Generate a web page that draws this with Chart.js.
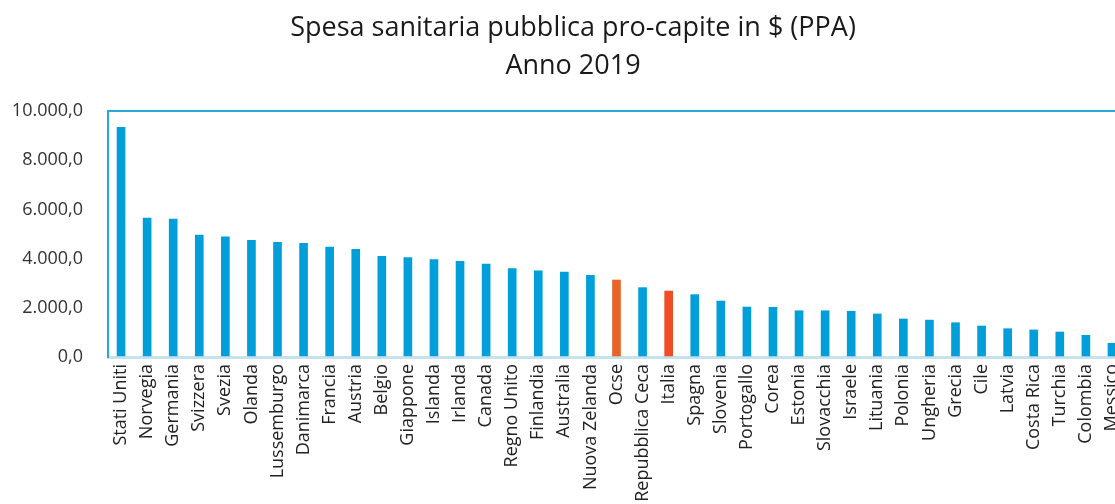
<!DOCTYPE html>
<html lang="it">
<head>
<meta charset="utf-8">
<title>Spesa sanitaria pubblica pro-capite</title>
<script src="https://cdn.jsdelivr.net/npm/chart.js@4/dist/chart.umd.min.js"></script>
<style>
    html, body { margin: 0; padding: 0; background: #fff; overflow: hidden; }
    #wrap { position: relative; width: 1150px; height: 504px; }
    #titolo {
        position: absolute; left: 0; top: 7px; width: 1146px;
        text-align: center; font-family: "Open Sans", sans-serif;
        font-size: 27px; line-height: 38px; color: #1a1a1a;
    }
    canvas { position: absolute; left: 0; top: 0; }
</style>
</head>
<body>
<div id="wrap">
    <canvas id="spesaChart" width="1150" height="504"></canvas>
    <div id="titolo">Spesa sanitaria pubblica pro-capite in $ (PPA)<br>Anno 2019</div>
</div>
<script>
// Paesi (ordinati per spesa)
const PAESI = [
    'Stati Uniti', 'Norvegia', 'Germania', 'Svizzera', 'Svezia', 'Olanda',
    'Lussemburgo', 'Danimarca', 'Francia', 'Austria', 'Belgio', 'Giappone',
    'Islanda', 'Irlanda', 'Canada', 'Regno Unito', 'Finlandia', 'Australia',
    'Nuova Zelanda', 'Ocse', 'Repubblica Ceca', 'Italia', 'Spagna', 'Slovenia',
    'Portogallo', 'Corea', 'Estonia', 'Slovacchia', 'Israele', 'Lituania',
    'Polonia', 'Ungheria', 'Grecia', 'Cile', 'Latvia', 'Costa Rica',
    'Turchia', 'Colombia', 'Messico'
];

// Spesa pro-capite in $ PPA
const SPESA = [
    9340, 5650, 5610, 4960, 4890, 4740,
    4660, 4620, 4470, 4380, 4090, 4040,
    3960, 3890, 3780, 3590, 3500, 3455,
    3320, 3130, 2820, 2680, 2535, 2275,
    2030, 2020, 1880, 1880, 1860, 1750,
    1545, 1500, 1395, 1260, 1150, 1100,
    1015, 880, 555
];

// Etichette asse y
const TICK_VALORI = [0, 2000, 4000, 6000, 8000, 10000];
const TICK_ETICHETTE = ['0,0', '2.000,0', '4.000,0', '6.000,0', '8.000,0', '10.000,0'];

// Colori: Ocse e Italia evidenziati
const COLORE_BASE = '#009fda';
const COLORI_EVIDENZA = { 'Ocse': '#e8652a', 'Italia': '#ef4d25' };
const colori = PAESI.map(p => COLORI_EVIDENZA[p] || COLORE_BASE);

const FONT = '"Open Sans", sans-serif';

const ctx = document.getElementById('spesaChart').getContext('2d');
const chart = new Chart(ctx, {
    type: 'bar',
    data: {
        labels: PAESI,
        datasets: [{
            label: 'Spesa pro-capite',
            data: SPESA,
            backgroundColor: colori,
            barThickness: 8,
            borderWidth: 0
        }]
    },
    options: {
        responsive: false,
        animation: false,
        layout: { padding: { top: 111, right: 25, left: 0, bottom: 0 } },
        plugins: {
            legend: { display: false },
            tooltip: { enabled: false },
            title: { display: false }
        },
        scales: {
            x: {
                offset: true,
                grid: { display: false, drawTicks: false },
                border: { display: true, color: '#c5e3ee', width: 3 },
                ticks: {
                    autoSkip: false,
                    minRotation: 90,
                    maxRotation: 90,
                    padding: 7,
                    color: '#222',
                    font: { family: FONT, size: 18 }
                },
                afterFit: (scale) => { scale.height = 147; }
            },
            y: {
                min: 0,
                max: 10000,
                afterBuildTicks: (scale) => {
                    scale.ticks = TICK_VALORI.map(v => ({ value: v }));
                },
                grid: {
                    drawTicks: false,
                    lineWidth: 2,
                    color: (c) => (c.tick && c.tick.value === 10000) ? '#29a8e0' : 'rgba(0,0,0,0)'
                },
                border: { display: true, color: '#29a8e0', width: 2 },
                ticks: {
                    padding: 25,
                    color: '#333',
                    font: { family: FONT, size: 18 },
                    callback: (value) => {
                        const i = TICK_VALORI.indexOf(value);
                        return i >= 0 ? TICK_ETICHETTE[i] : '';
                    }
                },
                afterFit: (scale) => { scale.width = 108; }
            }
        }
    }
});
</script>
</body>
</html>
